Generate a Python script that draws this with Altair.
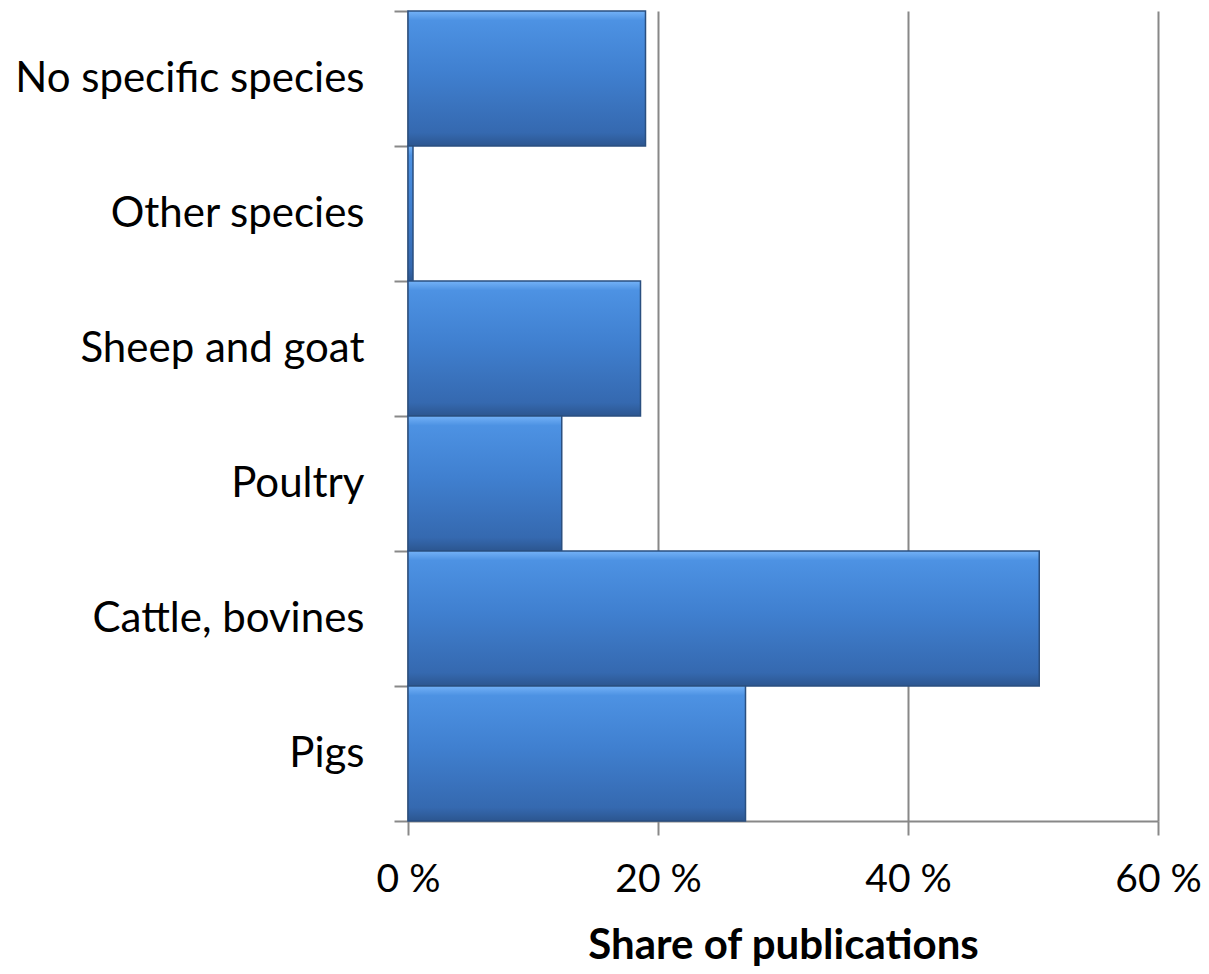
import altair as alt
import pandas as pd

categories = ["No specific species", "Other species", "Sheep and goat", "Poultry", "Cattle, bovines", "Pigs"]
shares = [19.0, 0.4, 18.6, 12.3, 50.5, 27.0]

df = pd.DataFrame({"species": categories, "share": shares})

grad = alt.LinearGradient(
    gradient="linear", x1=0, y1=0, x2=0, y2=1,
    stops=[
        alt.GradientStop(offset=0, color="#74b2f7"),
        alt.GradientStop(offset=0.07, color="#4d92e3"),
        alt.GradientStop(offset=0.45, color="#4080d0"),
        alt.GradientStop(offset=0.9, color="#3569b0"),
        alt.GradientStop(offset=1, color="#2c5690"),
    ],
)

FONT = "Lato"

chart = alt.Chart(df).mark_bar(color=grad, stroke="#2a4f80", strokeWidth=1.5).encode(
    x=alt.X("share:Q",
            scale=alt.Scale(domain=[0, 60], nice=False),
            axis=alt.Axis(values=[0, 20, 40, 60], labelExpr="datum.value + ' %'",
                          title="Share of publications", titleFontSize=42, titleFont=FONT,
                          titleFontWeight="bold", titleColor="black", titlePadding=26,
                          labelFontSize=39, labelFont=FONT, labelColor="black", labelPadding=25,
                          labelFlush=False,
                          tickSize=14, tickColor="#888888", tickWidth=2,
                          domainColor="#888888", domainWidth=2,
                          grid=True, gridColor="#888888", gridWidth=2)),
    y=alt.Y("species:N", sort=categories,
            scale=alt.Scale(paddingInner=0, paddingOuter=0),
            axis=alt.Axis(title=None, labelFontSize=42, labelFont=FONT, labelColor="black",
                          labelLimit=0, labelPadding=30, tickSize=14, tickColor="#888888",
                          tickWidth=2, tickBand="extent", domainColor="#888888", domainWidth=2,
                          grid=False)),
).properties(
    width=750, height=810,
    autosize=alt.AutoSizeParams(type="none"),
    padding={"left": 400, "top": 3, "right": 43, "bottom": 152},
).configure_view(stroke=None)

chart.save("out.html", embed_options={"renderer": "svg", "actions": False})
